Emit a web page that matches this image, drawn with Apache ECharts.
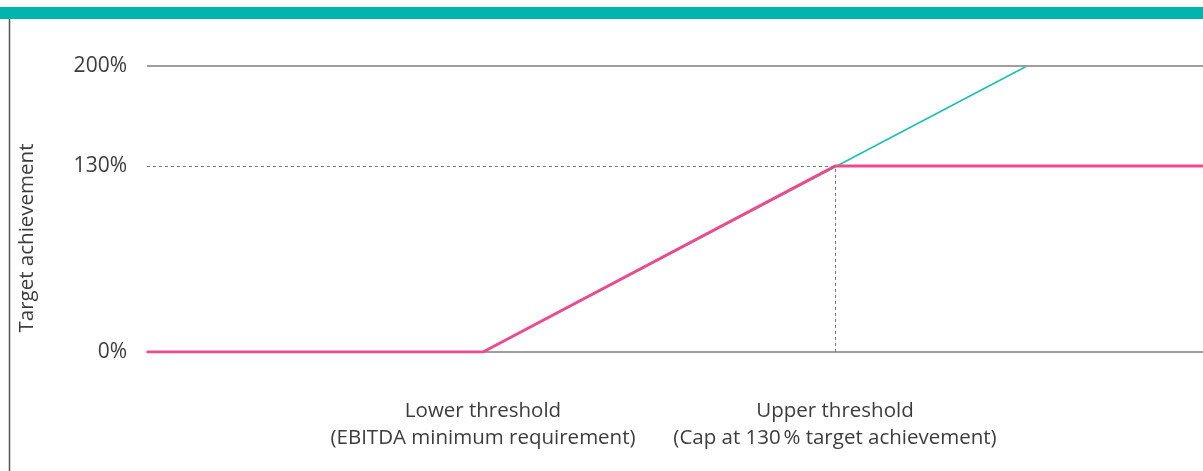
<!DOCTYPE html>
<html>
<head>
<meta charset="utf-8">
<script src="https://cdn.jsdelivr.net/npm/echarts@6/dist/echarts.min.js"></script>
<style>
  html, body { margin: 0; padding: 0; background: #fff; }
  #chart { width: 1203px; height: 471px; }
</style>
</head>
<body>
<div id="chart"></div>
<script>
// Performance scale (abstract units) and threshold positions
const xMax = 66;
const lowerThreshold = 21;
const upperThreshold = 43;
const capLevel = 130;
const yMax = 200;

// Payout curve with cap at 130 %
const cappedCurve = [[0, 0], [lowerThreshold, 0], [upperThreshold, capLevel], [xMax, capLevel]];
// Uncapped continuation of the slope up to 200 %
const uncappedCurve = [[lowerThreshold, 0], [55, 200]];

// Labels
const yTickLabels = { 0: '0%', 130: '130%', 200: '200%' };
const xTickLabels = {
  21: 'Lower threshold\n(EBITDA minimum requirement)',
  43: 'Upper threshold\n(Cap at 130\u202f% target achievement)'
};
const yAxisTitle = 'Target achievement';

const FONT = '"Open Sans", "Noto Sans", sans-serif';
const TEXT = '#3c3c3c';
const chart = echarts.init(document.getElementById('chart'), null, { renderer: 'canvas' });

chart.setOption({
  animation: false,
  backgroundColor: '#ffffff',
  grid: { left: 147, right: 0, top: 66, bottom: 119, containLabel: false },
  graphic: [
    { type: 'rect', shape: { x: 0, y: 7, width: 1203, height: 12 }, style: { fill: '#00b5ad' }, silent: true },
    { type: 'line', shape: { x1: 9.5, y1: 19, x2: 9.5, y2: 471 }, style: { stroke: '#555', lineWidth: 1.5 }, silent: true },
    {
      type: 'text', x: 27, y: 238, rotation: Math.PI / 2,
      style: { text: yAxisTitle, font: '400 20.5px ' + FONT, fill: TEXT, align: 'center', verticalAlign: 'middle' }
    }
  ],
  xAxis: {
    type: 'value', min: 0, max: xMax, interval: 1,
    axisLine: { show: true, lineStyle: { color: '#9e9e9e', width: 2 } },
    axisTick: { show: false },
    splitLine: { show: false },
    axisLabel: {
      margin: 46, color: TEXT, fontFamily: FONT, fontSize: 20.5, fontWeight: 400, lineHeight: 27,
      align: 'center', showMinLabel: false, showMaxLabel: false,
      formatter: v => xTickLabels[v] || ''
    }
  },
  yAxis: {
    type: 'value', min: 0, max: yMax, interval: 10,
    axisLine: { show: false },
    axisTick: { show: false },
    splitLine: { show: false },
    axisLabel: {
      margin: 20, color: TEXT, fontFamily: FONT, fontSize: 21, fontWeight: 400,
      formatter: v => yTickLabels[v] || ''
    }
  },
  series: [
    {
      type: 'line', data: uncappedCurve, symbol: 'none', z: 2,
      lineStyle: { color: '#1cbdb5', width: 1.5 },
      markLine: {
        silent: true, symbol: 'none', label: { show: false },
        data: [
          { yAxis: yMax, lineStyle: { color: '#9e9e9e', width: 2, type: 'solid' } },
          [
            { coord: [0, capLevel], lineStyle: { color: '#777', width: 1, type: [3, 3] } },
            { coord: [upperThreshold, capLevel] }
          ],
          [
            { coord: [upperThreshold, 0], lineStyle: { color: '#777', width: 1, type: [3, 3] } },
            { coord: [upperThreshold, capLevel] }
          ]
        ]
      }
    },
    {
      type: 'line', data: cappedCurve, symbol: 'none', z: 3,
      lineStyle: { color: '#ea4c8c', width: 3 }
    }
  ]
});
</script>
</body>
</html>
